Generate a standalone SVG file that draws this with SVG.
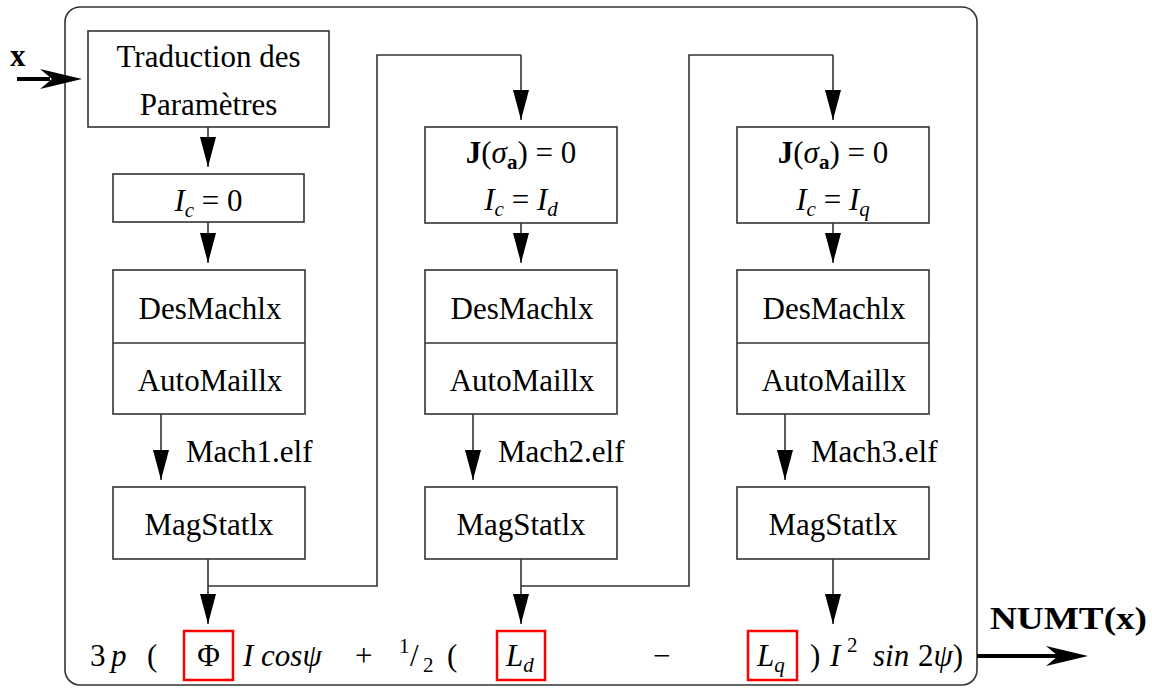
<svg xmlns="http://www.w3.org/2000/svg" width="1152" height="688" viewBox="0 0 1152 688">
<style>
text{font-family:"Liberation Serif","Times New Roman",serif;font-size:31px;fill:#000}
.c{text-anchor:middle}
.i{font-style:italic}
.b{font-weight:bold}
.s{font-size:21px}
.box{fill:#fff;stroke:#333;stroke-width:1.6}
.red{fill:none;stroke:#ff0000;stroke-width:2.5}
.ln{fill:none;stroke:#333;stroke-width:1.6}
.ar{fill:none;stroke:#333;stroke-width:1.6;marker-end:url(#ah)}
</style>
<defs>
<marker id="ah" markerUnits="userSpaceOnUse" markerWidth="30" markerHeight="16" refX="30" refY="8" orient="auto" viewBox="0 0 30 16">
<path d="M0,0 L30,8 L0,16 z" fill="#000"/>
</marker>
</defs>
<rect id="frame" x="65" y="7" width="912" height="678" rx="15" ry="15" fill="none" stroke="#333" stroke-width="1.6"/>

<g id="connectors">
<path class="ar" d="M208,127 V167"/>
<path class="ar" d="M208,222 V263"/>
<path class="ar" d="M161,414 V480"/>
<path class="ar" d="M208,559 V624"/>
<path class="ln" d="M208,586 H377 V55 H521"/>
<path class="ar" d="M521,55 V120"/>
<path class="ar" d="M521,223 V263"/>
<path class="ar" d="M473,414 V480"/>
<path class="ar" d="M521,559 V624"/>
<path class="ln" d="M521,586 H689 V55 H833"/>
<path class="ar" d="M833,55 V120"/>
<path class="ar" d="M833,223 V263"/>
<path class="ar" d="M785,414 V480"/>
<path class="ar" d="M833,559 V624"/>
<path d="M17,79 H50" stroke="#000" stroke-width="4"/>
<path d="M82,79 L40,69 L52,79 L40,89 z" fill="#000"/>
<path d="M977,656 H1058" stroke="#000" stroke-width="4"/>
<path d="M1088,656 L1046,646 L1058,656 L1046,666 z" fill="#000"/>
</g>

<g id="input"><text class="b" x="10" y="66">x</text></g>
<g id="output"><text class="b" x="990" y="629" font-size="33" textLength="157" lengthAdjust="spacingAndGlyphs">NUMT(x)</text></g>

<g id="traduction">
<rect class="box" x="88" y="31" width="241" height="96"/>
<text class="c" x="208.5" y="67">Traduction des</text>
<text class="c" x="208.5" y="115">Paramètres</text>
</g>
<g id="ic0">
<rect class="box" x="113" y="174" width="191" height="48"/>
<text class="c" x="208.5" y="211"><tspan class="i">I</tspan><tspan class="i s" dy="6">c</tspan><tspan dy="-6"> = 0</tspan></text>
</g>
<g id="mach1">
<rect class="box" x="113" y="270" width="192" height="144"/>
<path class="ln" d="M113,343 H305"/>
<text class="c" x="210" y="319">DesMachlx</text>
<text class="c" x="210" y="391">AutoMaillx</text>
</g>
<g id="label1"><text x="186" y="462">Mach1.elf</text></g>
<g id="mag1">
<rect class="box" x="113" y="487" width="192" height="72"/>
<text class="c" x="209" y="535">MagStatlx</text>
</g>

<g id="j2">
<rect class="box" x="425" y="127" width="192" height="96"/>
<text class="c" x="521" y="163"><tspan class="b">J</tspan>(<tspan class="i">σ</tspan><tspan class="b s" dy="6">a</tspan><tspan dy="-6">) = 0</tspan></text>
<text class="c" x="521" y="210"><tspan class="i">I</tspan><tspan class="i s" dy="6">c</tspan><tspan dy="-6"> = </tspan><tspan class="i">I</tspan><tspan class="i s" dy="6">d</tspan></text>
</g>
<g id="mach2">
<rect class="box" x="425" y="270" width="192" height="144"/>
<path class="ln" d="M425,343 H617"/>
<text class="c" x="522" y="319">DesMachlx</text>
<text class="c" x="522" y="391">AutoMaillx</text>
</g>
<g id="label2"><text x="498" y="462">Mach2.elf</text></g>
<g id="mag2">
<rect class="box" x="425" y="487" width="192" height="72"/>
<text class="c" x="521" y="535">MagStatlx</text>
</g>

<g id="j3">
<rect class="box" x="737" y="127" width="192" height="96"/>
<text class="c" x="833" y="163"><tspan class="b">J</tspan>(<tspan class="i">σ</tspan><tspan class="b s" dy="6">a</tspan><tspan dy="-6">) = 0</tspan></text>
<text class="c" x="833" y="210"><tspan class="i">I</tspan><tspan class="i s" dy="6">c</tspan><tspan dy="-6"> = </tspan><tspan class="i">I</tspan><tspan class="i s" dy="6">q</tspan></text>
</g>
<g id="mach3">
<rect class="box" x="737" y="270" width="192" height="144"/>
<path class="ln" d="M737,343 H929"/>
<text class="c" x="834" y="319">DesMachlx</text>
<text class="c" x="834" y="391">AutoMaillx</text>
</g>
<g id="label3"><text x="811" y="462">Mach3.elf</text></g>
<g id="mag3">
<rect class="box" x="737" y="487" width="192" height="72"/>
<text class="c" x="833" y="535">MagStatlx</text>
</g>

<g id="formula">
<rect class="red" x="184" y="631" width="49" height="49"/>
<rect class="red" x="497" y="631" width="48" height="49"/>
<rect class="red" x="748" y="631" width="49" height="49"/>
<text x="90" y="666">3</text>
<text class="i" x="111" y="666">p</text>
<text x="147" y="666">(</text>
<text class="c" x="208.5" y="666">Φ</text>
<text class="i" x="243" y="666">I cosψ</text>
<text x="355" y="666">+</text>
<text class="s" x="399" y="653">1</text>
<text x="410" y="666">/</text>
<text class="s" x="423" y="672">2</text>
<text x="447" y="666">(</text>
<text class="i" x="506" y="666">L<tspan class="s" dy="6">d</tspan></text>
<text x="653" y="666">−</text>
<text class="i" x="757" y="666">L<tspan class="s" dy="6">q</tspan></text>
<text x="810" y="666">)</text>
<text class="i" x="830" y="666">I</text>
<text class="s" x="847" y="652">2</text>
<text class="i" x="873" y="666">sin</text>
<text x="918" y="666">2<tspan class="i">ψ</tspan>)</text>
</g>
</svg>
